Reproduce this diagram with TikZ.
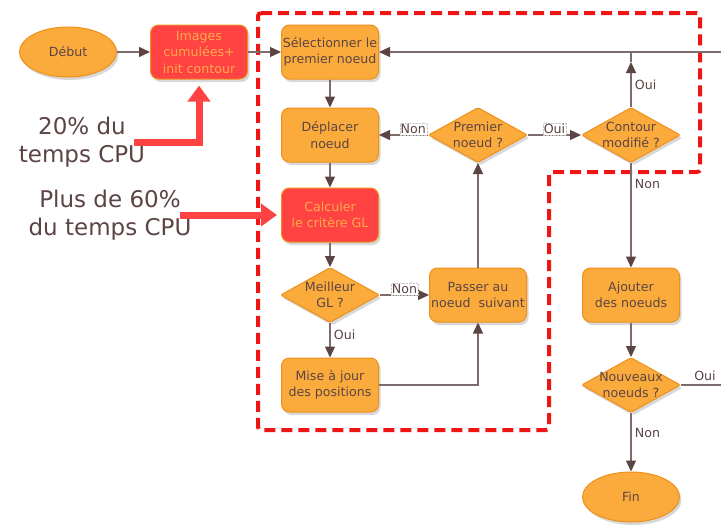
\documentclass[tikz,border=0pt]{standalone}
\usepackage{fontspec}
\setmainfont{DejaVu Sans}
\usepackage{tikz}
\usetikzlibrary{shapes.geometric,arrows.meta,shadows}

\definecolor{fondorange}{HTML}{FBAB3B}
\definecolor{bordorange}{HTML}{EF8F1C}
\definecolor{fondrouge}{HTML}{FF4343}
\definecolor{texteorange}{HTML}{FFAA4A}
\definecolor{brun}{HTML}{5C4444}
\definecolor{trait}{HTML}{7E6C6C}
\definecolor{pointille}{HTML}{EE1515}

\begin{document}
\begin{tikzpicture}[x=1pt,y=-1pt,
	etape/.style={draw=bordorange,fill=fondorange,text=brun,rounded corners=8pt,
		minimum width=97pt,minimum height=54pt,inner sep=0pt,align=center,line width=1pt,
		font=\fontsize{12.6}{16.5}\selectfont,
		drop shadow={opacity=0.3,shadow xshift=2pt,shadow yshift=-3pt}},
	chaud/.style={etape,fill=fondrouge,text=texteorange},
	test/.style={etape,diamond,rounded corners=2pt,minimum width=99pt,minimum height=55pt,inner sep=-12pt},
	bout/.style={etape,ellipse,minimum height=50pt},
	ligne/.style={draw=trait,line width=1.1pt},
	fleche/.style={ligne,-{Triangle[length=11pt,width=10pt,color=brun]}},
	etiq/.style={text=brun,font=\fontsize{12.6}{14}\selectfont},
	cadre/.style={etiq,fill=white,draw=gray!45,densely dotted,thin,inner sep=1pt},
	rouge/.style={draw=fondrouge,line width=7pt,-{Triangle[length=16pt,width=22pt]}},
	grand/.style={text=brun,align=center,inner sep=0pt,font=\fontsize{23}{28}\selectfont}]
	\useasboundingbox[fill=white] (0,0) rectangle (721,525);
	% zone de la boucle
	\draw[pointille,line width=4pt,dash pattern=on 11pt off 6pt,rounded corners=3pt]
	     (258,13) -- (700,13) -- (700,172) -- (549,172) -- (549,430) -- (258,430) -- cycle;
	\node[bout] (N0) at (68,52) {Début};
	\node[chaud] (N1) at (199,52) {Images\\cumulées+\\init contour};
	\node[etape] (N2) at (330,52) {Sélectionner le\\premier noeud};
	\node[etape] (N3) at (330,135) {Déplacer\\noeud};
	\node[test] (N4) at (478,135) {Premier\\noeud ?};
	\node[test] (N5) at (631,135) {Contour\\modifié ?};
	\node[chaud] (N6) at (330,215) {Calculer\\le critère GL};
	\node[test] (N7) at (330,295) {Meilleur\\GL ?};
	\node[etape] (N8) at (478,295) {Passer au\\noeud~~suivant};
	\node[etape] (N9) at (330,385) {Mise à jour\\des positions};
	\node[etape] (N10) at (631,295) {Ajouter\\des noeuds};
	\node[test] (N11) at (631,385) {Nouveaux\\noeuds ?};
	\node[bout] (N12) at (631,497) {Fin};
	\node[grand] (T0) at (82,142) {20\% du\\temps CPU};
	\node[grand] (T1) at (110,215) {Plus de 60\%\\du temps CPU};
	\coordinate (C0) at (721,52);
	\coordinate (C1) at (721,385);
	\coordinate (C2) at (631,62);
	\path[fleche]
	     (N0) edge (N1)  (N1) edge (N2)
	     (N2) edge (N3)  (N3) edge (N6)  (N6) edge (N7)
	     (N4) edge node[cadre,above,pos=0.3]{Non} (N3)
	     (N4) edge node[cadre,above]{Oui} (N5)
	     (N7) edge node[cadre,above]{Non} (N8)
	     (N7) edge node[etiq,right,pos=0.35]{Oui} (N9)
	     (N8) edge (N4)
	     (N5) edge node[etiq,right,pos=0.2]{Non} (N10)
	     (N10) edge (N11)
	     (N11) edge node[etiq,right,pos=0.34]{Non} (N12);
	\draw[fleche] (N9.east) -| (N8.south);
	\draw[fleche] (N5.north) -- node[etiq,right,pos=0.49]{Oui} (C2);
	\draw[ligne] (C2) -- (C2 |- C0);
	\draw[fleche] (C0) -- (N2.east);
	\draw[ligne] (N11.east) -- node[etiq,above,pos=0.6]{Oui} (C1);
	\draw[rouge,shorten >=6pt] ([xshift=-11pt]T0.east) -| (N1.south);
	\draw[rouge,shorten >=4pt] ([xshift=-12pt]T1.east) -- (N6.west);
\end{tikzpicture}
\end{document}
